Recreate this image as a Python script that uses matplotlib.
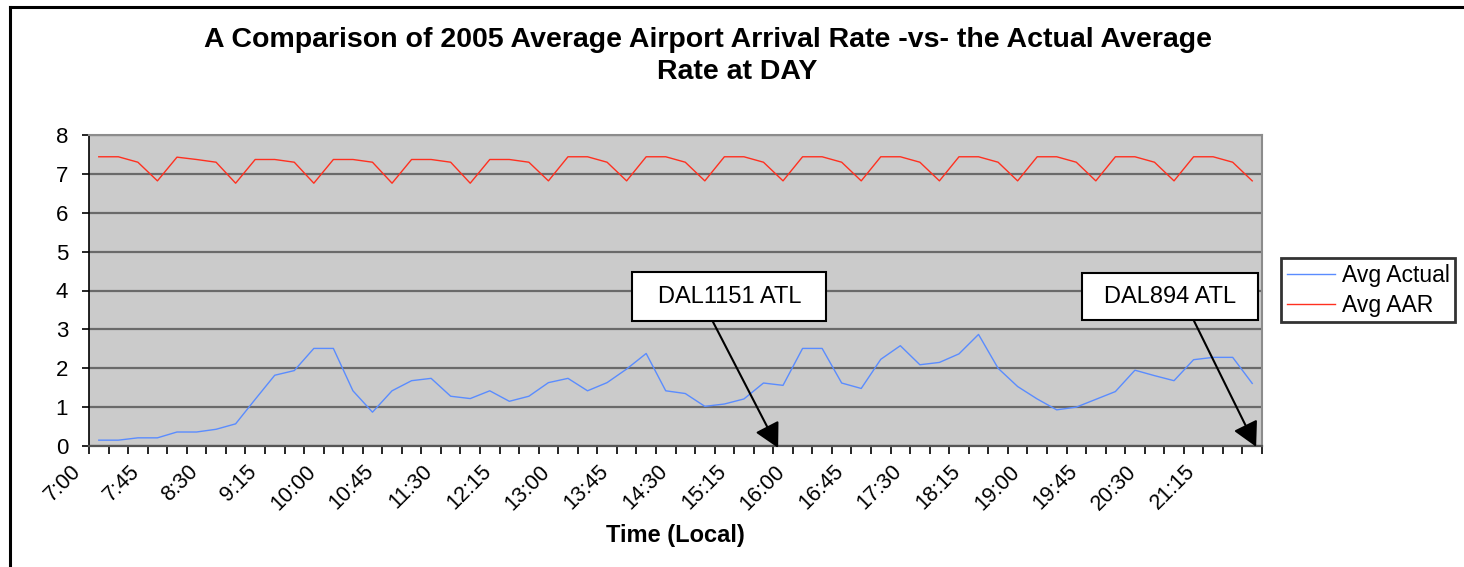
import matplotlib
matplotlib.use('Agg')
import matplotlib.pyplot as plt
from matplotlib.patches import Rectangle
from matplotlib.lines import Line2D
from matplotlib.transforms import ScaledTranslation

plt.rcParams['font.family'] = ['Liberation Sans', 'DejaVu Sans']

# Horas (intervalos de 15 minutos)
horas = ["7:00", "7:15", "7:30", "7:45", "8:00", "8:15", "8:30", "8:45",
         "9:00", "9:15", "9:30", "9:45", "10:00", "10:15", "10:30", "10:45",
         "11:00", "11:15", "11:30", "11:45", "12:00", "12:15", "12:30", "12:45",
         "13:00", "13:15", "13:30", "13:45", "14:00", "14:15", "14:30", "14:45",
         "15:00", "15:15", "15:30", "15:45", "16:00", "16:15", "16:30", "16:45",
         "17:00", "17:15", "17:30", "17:45", "18:00", "18:15", "18:30", "18:45",
         "19:00", "19:15", "19:30", "19:45", "20:00", "20:15", "20:30", "20:45",
         "21:00", "21:15", "21:30", "21:45"]

avg_actual = [0.15, 0.15, 0.21, 0.21, 0.36, 0.36, 0.43, 0.57, 1.20, 1.82,
              1.94, 2.51, 2.51, 1.42, 0.87, 1.42, 1.68, 1.74, 1.28, 1.22,
              1.42, 1.15, 1.28, 1.63, 1.74, 1.42, 1.63, 1.98, 2.38, 1.42,
              1.35, 1.02, 1.08, 1.21, 1.62, 1.56, 2.51, 2.51, 1.62, 1.48,
              2.23, 2.58, 2.09, 2.15, 2.37, 2.87, 2.00, 1.53, 1.21, 0.93,
              1.00, 1.20, 1.40, 1.95, 1.81, 1.68, 2.22, 2.28, 2.28, 1.61]

avg_aar = [7.44, 7.44, 7.30, 6.82, 7.43, 7.37, 7.30, 6.76,
           7.37, 7.37, 7.30, 6.76, 7.37, 7.37, 7.30, 6.76,
           7.37, 7.37, 7.30, 6.76, 7.37, 7.37, 7.30, 6.82,
           7.44, 7.44, 7.30, 6.82, 7.44, 7.44, 7.30, 6.82,
           7.44, 7.44, 7.30, 6.82, 7.44, 7.44, 7.30, 6.82,
           7.44, 7.44, 7.30, 6.82, 7.44, 7.44, 7.30, 6.82,
           7.44, 7.44, 7.30, 6.82, 7.44, 7.44, 7.30, 6.82,
           7.44, 7.44, 7.30, 6.82]

# Vuelos anotados: texto, caja (x0, y0, x1, y1) y flecha (desde, hasta)
vuelos = ["DAL1151 ATL", "DAL894 ATL"]
cajas = [(27.3, 3.21, 37.2, 4.47), (50.3, 3.24, 59.3, 4.45)]
flechas = [((31.4, 3.21), (34.75, -0.05)), ((56.0, 3.24), (59.2, -0.02))]

W, H = 1464, 567
fig = plt.figure(figsize=(W / 100, H / 100), dpi=100)
ax = fig.add_axes([89 / W, 1 - 446 / H, (1262 - 89) / W, (446 - 135) / H])
ax.set_facecolor('#CBCBCB')

x = list(range(len(horas)))
ax.plot(x, avg_actual, color='#5A8CFF', lw=1.0, label='Avg Actual')
ax.plot(x, avg_aar, color='#FF3020', lw=1.0, label='Avg AAR')

ax.set_xlim(-0.5, len(horas) - 0.5)
ax.set_ylim(0, 8)
ax.set_yticks(range(9))
ax.yaxis.grid(True, color='#6A6A6A', lw=1.6)
ax.set_axisbelow(True)

ax.set_xticks(x[::3])
ax.set_xticklabels(horas[::3], rotation=45, ha='right', va='center',
                   rotation_mode='anchor', fontsize=15.5)
ax.set_xticks([i - 0.5 for i in range(len(horas) + 1)], minor=True)
ax.tick_params(axis='x', which='major', length=0, pad=9)
ax.tick_params(axis='x', which='minor', length=6, width=1.2, color='black', direction='out')
ax.tick_params(axis='y', length=5, width=1.2, color='black', labelsize=16, pad=10)

# etiquetas del eje x corridas a la izquierda y abajo, como en Excel
desplazar = ScaledTranslation(-0.21, -0.10, fig.dpi_scale_trans)
for etiqueta in ax.get_xticklabels():
    etiqueta.set_transform(etiqueta.get_transform() + desplazar)

ax.spines['left'].set_color('black')
ax.spines['left'].set_linewidth(1.2)
ax.spines['bottom'].set_color('#555555')
ax.spines['bottom'].set_linewidth(1.6)
for s in ['top', 'right']:
    ax.spines[s].set_color('#8C8C8C')
    ax.spines[s].set_linewidth(1.5)

ax.set_xlabel("Time (Local)", fontsize=17, fontweight='bold', labelpad=7)

fig.text(708 / W, 1 - 40 / H, "A Comparison of 2005 Average Airport Arrival Rate -vs- the Actual Average",
         ha='center', va='center', fontsize=20.5, fontweight='bold')
fig.text(737 / W, 1 - 72 / H, "Rate at DAY", ha='center', va='center', fontsize=20.5, fontweight='bold')

# Anotaciones
for texto, (x0, y0, x1, y1), (ini, fin) in zip(vuelos, cajas, flechas):
    ax.add_patch(Rectangle((x0, y0), x1 - x0, y1 - y0, facecolor='white',
                           edgecolor='black', lw=1.5, zorder=5, clip_on=False))
    ax.text((x0 + x1) / 2, (y0 + y1) / 2, texto, ha='center', va='center',
            fontsize=17, zorder=6)
    ax.annotate('', xy=fin, xytext=ini, zorder=7, annotation_clip=False,
                arrowprops=dict(arrowstyle='-|>,head_length=0.75,head_width=0.4',
                                mutation_scale=20, color='black', lw=1.5,
                                shrinkA=0, shrinkB=0))

fig.legend(loc='upper left', bbox_to_anchor=(1281 / W, 1 - 258 / H), borderaxespad=0,
           fontsize=16.5, frameon=True, fancybox=False, edgecolor='black',
           handlelength=2.1, handletextpad=0.3, borderpad=0.25, labelspacing=0.3)
fig.legends[0].get_frame().set_linewidth(2)

# Borde de la figura
fig.add_artist(Line2D([10 / W, 10 / W], [0, 1 - 7 / H], color='black', lw=2.2))
fig.add_artist(Line2D([10 / W, 1], [1 - 7 / H, 1 - 7 / H], color='black', lw=2.2))

fig.savefig("out.png", dpi=100)
